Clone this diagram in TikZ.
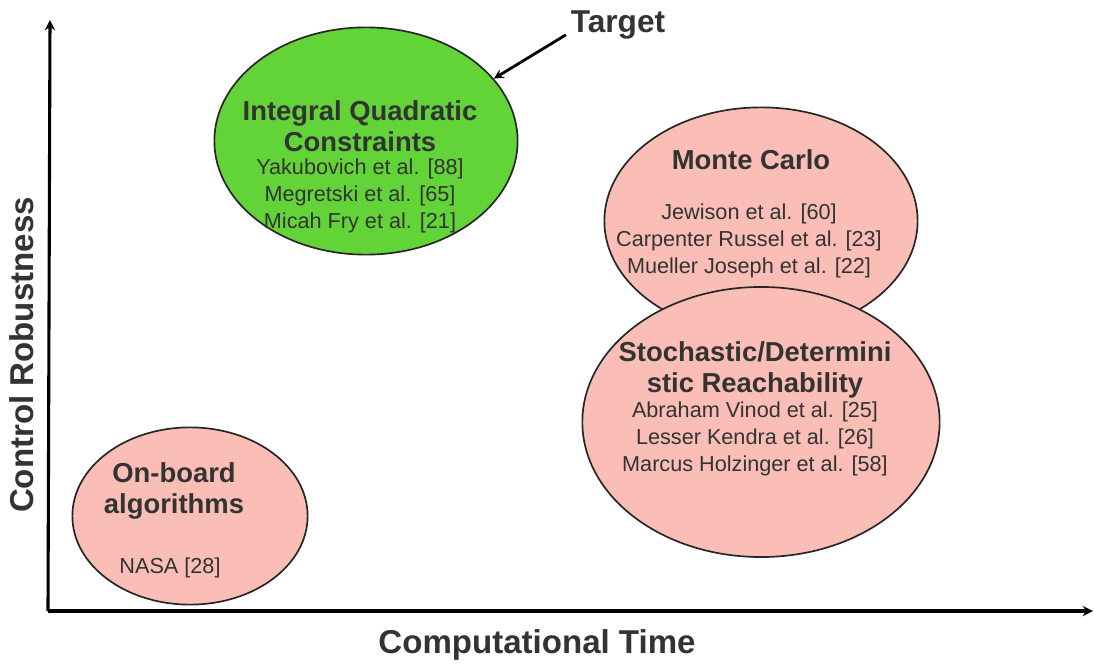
\documentclass[tikz,border=0pt]{standalone}
\usepackage{fontspec}
\setmainfont{Liberation Sans}
\usepackage{xcolor}
\usetikzlibrary{shapes.geometric, arrows}

\definecolor{iqcgreen}{RGB}{98,212,56}
\definecolor{softpink}{RGB}{250,190,182}
\definecolor{inkgray}{RGB}{51,51,51}

\begin{document}
\begin{tikzpicture}[x=0.025cm, y=-0.025cm]
        % Define ellipse and text styles
        \tikzstyle{blob} = [ellipse, draw=black!85, line width=1.2pt, fill=softpink, inner sep=0pt]
        \tikzstyle{head} = [align=center, text=inkgray, font=\fontsize{19.5}{22}\selectfont\bfseries]
        \tikzstyle{body} = [align=center, text=inkgray, font=\fontsize{15.4}{19.2}\selectfont]
        \tikzstyle{axislabel} = [text=inkgray, font=\fontsize{23.5}{26}\selectfont\bfseries]
        \tikzstyle{axis} = [line width=2.2pt,->,>=stealth]
        \tikzstyle{arrow} = [line width=2pt,->,>=stealth]

        \useasboundingbox (0,0) rectangle (1094,664);

        % Axes
        \coordinate (origin) at (48,611);
        \coordinate (ytop) at (50,20);
        \coordinate (xend) at (1093,611);
        \draw [axis] (origin) -- (ytop);
        \draw [axis] (origin) -- (xend);
        \node (xlabel) [axislabel] at (537,645) {Computational Time};
        \node (ylabel) [axislabel, rotate=90] at (22,355) {Control Robustness};

        % Ellipses
        \node (iqc) [blob, fill=iqcgreen, minimum width=7.58cm, minimum height=5.68cm] at (366,141) {};
        \node (montecarlo) [blob, minimum width=7.83cm, minimum height=5.68cm] at (761,221) {};
        \node (reach) [blob, minimum width=8.93cm, minimum height=6.75cm] at (761,422) {};
        \node (onboard) [blob, minimum width=5.88cm, minimum height=4.43cm] at (190,516) {};

        % Texts
        \node (iqchead) [head] at (360,126) {Integral Quadratic\\Constraints};
        \node (iqcbody) [body] at (360,196) {Yakubovich et al. [88]\\Megretski et al. [65]\\Micah Fry et al. [21]};
        \node (mchead) [head] at (751,160) {Monte Carlo};
        \node (mcbody) [body] at (749,241) {Jewison et al. [60]\\Carpenter Russel et al. [23]\\Mueller Joseph et al. [22]};
        \node (reachhead) [head] at (755,370) {Stochastic/Determini\\stic Reachability};
        \node (reachbody) [body] at (755,439) {Abraham Vinod et al. [25]\\Lesser Kendra et al. [26]\\Marcus Holzinger et al. [58]};
        \node (obhead) [head] at (174,491) {On-board\\algorithms};
        \node (obbody) [body] at (170,568) {NASA [28]};

        % Target
        \node (target) [axislabel, font=\fontsize{22.5}{26}\selectfont\bfseries] at (618,25) {Target};
        \draw [arrow] ([yshift=-7pt]target.west) -- (iqc.26);
    \end{tikzpicture}
\end{document}
